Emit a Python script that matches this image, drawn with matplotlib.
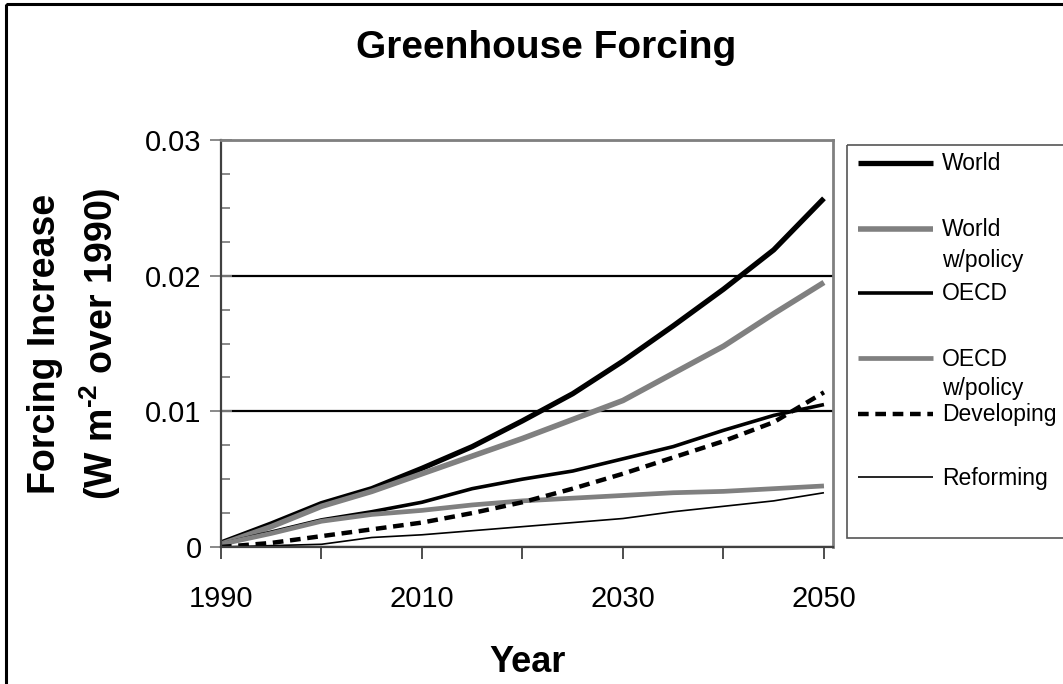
import matplotlib
matplotlib.use("Agg")
import matplotlib.pyplot as plt
from matplotlib.lines import Line2D
from matplotlib.patches import Rectangle
from matplotlib.ticker import MultipleLocator

plt.rcParams['font.family'] = ['Liberation Sans', 'DejaVu Sans']
plt.rcParams['mathtext.fontset'] = 'custom'
plt.rcParams['mathtext.rm'] = 'Liberation Sans:bold'
plt.rcParams['mathtext.bf'] = 'Liberation Sans:bold'
plt.rcParams['mathtext.it'] = 'Liberation Sans:italic'

# ---- data: forcing increase over 1990 (W m^-2) ----
years = [1990, 1995, 2000, 2005, 2010, 2015, 2020, 2025, 2030, 2035, 2040, 2045, 2050]
world = [0.0003, 0.0017, 0.0032, 0.0043, 0.0058, 0.0074, 0.0093, 0.0113, 0.0137, 0.0163, 0.0190, 0.0219, 0.0257]
world_policy = [0.0002, 0.0015, 0.0030, 0.0041, 0.0054, 0.0067, 0.0080, 0.0094, 0.0108, 0.0128, 0.0148, 0.0172, 0.0195]
oecd = [0.0002, 0.0011, 0.0020, 0.0026, 0.0033, 0.0043, 0.0050, 0.0056, 0.0065, 0.0074, 0.0086, 0.0097, 0.0105]
oecd_policy = [0.0002, 0.0010, 0.0019, 0.0024, 0.0027, 0.0031, 0.0034, 0.0036, 0.0038, 0.0040, 0.0041, 0.0043, 0.0045]
developing = [0.0000, 0.0003, 0.0008, 0.0013, 0.0018, 0.0025, 0.0033, 0.0043, 0.0054, 0.0066, 0.0078, 0.0092, 0.0114]
reforming = [0.0000, 0.0001, 0.0002, 0.0007, 0.0009, 0.0012, 0.0015, 0.0018, 0.0021, 0.0026, 0.0030, 0.0034, 0.0040]

series_labels = ["World", "World\nw/policy", "OECD", "OECD\nw/policy", "Developing", "Reforming"]
series_values = [world, world_policy, oecd, oecd_policy, developing, reforming]

x_ticks = [1990, 2000, 2010, 2020, 2030, 2040, 2050]
x_tick_labels = ["1990", "", "2010", "", "2030", "", "2050"]
y_ticks = [0, 0.01, 0.02, 0.03]
y_tick_labels = ["0", "0.01", "0.02", "0.03"]

title = "Greenhouse Forcing"
x_title = "Year"
y_title_1 = "Forcing Increase"
y_title_2 = r"(W m$^{\text{-2}}$ over 1990)"

# ---- styles ----
GRAY = "#808080"
styles = [
    dict(color="black", lw=3.8),
    dict(color=GRAY, lw=4.0),
    dict(color="black", lw=2.6),
    dict(color=GRAY, lw=3.4),
    dict(color="black", lw=3.2, dashes=(2.4, 1.5)),
    dict(color="black", lw=1.2),
]

W, H = 1063, 684
fig = plt.figure(figsize=(W / 100, H / 100), dpi=100)
fig.patch.set_facecolor("white")

# plot area in pixel coordinates
L, R, T, B = 221, 833, 140, 547
ax = fig.add_axes([L / W, 1 - B / H, (R - L) / W, (B - T) / H])

for vals, st in zip(series_values, styles):
    ax.plot(years, vals, solid_capstyle="butt", dash_capstyle="butt", **st)

ax.set_xlim(1990, 2050.9)
ax.set_ylim(0, 0.03)

ax.set_xticks(x_ticks)
ax.set_xticklabels(x_tick_labels, fontsize=21)
ax.set_yticks(y_ticks)
ax.set_yticklabels(y_tick_labels, fontsize=21)
ax.yaxis.set_minor_locator(MultipleLocator(0.0025))

ax.tick_params(axis="x", which="major", direction="out", length=8.6, width=1.3,
               color="#404040", pad=18.6)
ax.tick_params(axis="y", which="major", direction="inout", length=16, width=1.3,
               color=GRAY, pad=6.0)
ax.tick_params(axis="y", which="minor", direction="in", length=6.5, width=1.3,
               color=GRAY)

ax.yaxis.grid(True, which="major", color="black", lw=1.6)

for side in ("left", "bottom"):
    ax.spines[side].set_color("#404040")
    ax.spines[side].set_linewidth(1.6)
for side in ("top", "right"):
    ax.spines[side].set_color(GRAY)
    ax.spines[side].set_linewidth(2.0)

# ---- overlay in pixel coordinates for texts, legend and frame ----
ov = fig.add_axes([0, 0, 1, 1], zorder=-1)
ov.set_xlim(0, W)
ov.set_ylim(H, 0)
ov.axis("off")

ov.add_patch(Rectangle((6, 4), W + 20, H + 20, fill=False, edgecolor="black", lw=2.2))

ov.text(546, 58, title, fontsize=28, fontweight="bold", ha="center", va="baseline")
ov.text(528, 672, x_title, fontsize=26, fontweight="bold", ha="center", va="baseline")
ov.text(55, 344, y_title_1, fontsize=27, fontweight="bold", rotation=90,
        rotation_mode="anchor", ha="center", va="baseline")
ov.text(113, 344, y_title_2, fontsize=27, fontweight="bold", rotation=90,
        rotation_mode="anchor", ha="center", va="baseline")

# legend box with entries
ov.add_patch(Rectangle((847, 145), 300, 393, fill=False, edgecolor="#555555", lw=1.2))
entry_y = [163, 229, 293, 358, 414, 477]
for yy, label, st in zip(entry_y, series_labels, styles):
    ov.add_line(Line2D([858, 933], [yy, yy], solid_capstyle="butt",
                       dash_capstyle="butt", **st))
    for i, part in enumerate(label.split("\n")):
        ov.text(942, yy + 7.5 + 30 * i, part, fontsize=16.5, ha="left", va="baseline")

fig.savefig("out.png", dpi=100, facecolor="white")
